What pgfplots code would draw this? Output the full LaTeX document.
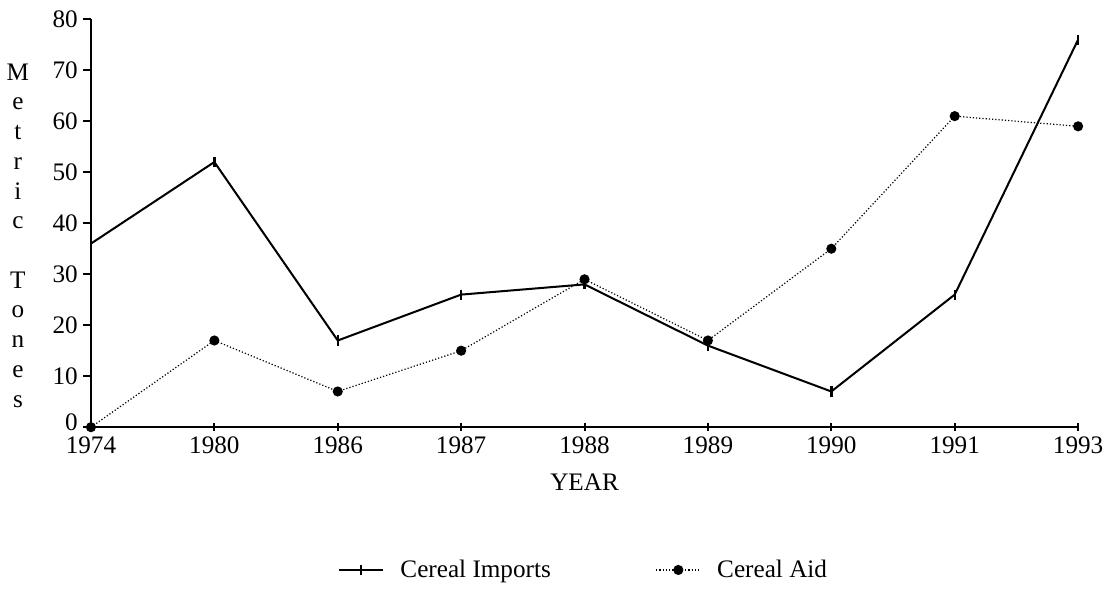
\documentclass[border={0pt 0pt 0pt 2pt}]{standalone}
\usepackage{fontspec}
\setmainfont{Liberation Serif}
\usepackage{pgfplots}
\pgfplotsset{compat=1.18}

\begin{document}
\begin{tikzpicture}
\begin{axis}[
  scale only axis,
  width=490pt, height=202.5pt,
  xmin=0, xmax=8,
  ymin=0, ymax=80,
  ytick={10,20,...,80},
  extra y ticks={0},
  extra y tick style={yticklabel style={yshift=2.5pt, inner ysep=0.5pt}},
  xtick={0,...,8},
  xticklabels={1974,1980,1986,1987,1988,1989,1990,1991,1993},
  axis lines*=left,
  axis line style={line width=1pt},
  tick style={line width=1pt, black},
  ytick align=outside,
  xtick align=center,
  major tick length=4pt,
  tick label style={font=\fontsize{12.5}{14}\selectfont},
  yticklabel style={xshift=1pt},
  xticklabel style={yshift=-1pt, inner ysep=1.5pt},
  /pgf/number format/assume math mode=true,
  xlabel={YEAR},
  xlabel style={font=\fontsize{12.5}{14}\selectfont, yshift=-5pt},
  clip=false,
  legend columns=2,
  legend style={draw=none, at={(0.5,-0.35)}, anchor=center,
    font=\fontsize{12.5}{14}\selectfont,
    /tikz/every odd column/.append style={column sep=6pt},
    /tikz/every even column/.append style={column sep=50pt}},
  legend cell align=left,
  legend image code/.code={\draw[mark repeat=2, mark phase=2, #1]
    plot coordinates {(0pt,0pt) (11pt,0pt) (22pt,0pt)};},
]
\addplot[black, line width=1pt, mark=|, mark size=2.5pt, mark options={line width=1.2pt}]
  coordinates {(0,36) (1,52) (2,17) (3,26) (4,28) (5,16) (6,7) (7,26) (8,76)};
\addlegendentry{Cereal Imports}
\addplot[black, line width=0.6pt, densely dotted, mark=*, mark size=2.2pt, mark options={solid}]
  coordinates {(0,0) (1,17) (2,7) (3,15) (4,29) (5,17) (6,35) (7,61) (8,59)};
\addlegendentry{Cereal Aid}
\node[align=center, font=\fontsize{12.5}{14.75}\selectfont] at (axis description cs:-0.074,0.47)
  {M\\e\\t\\r\\i\\c\\[14.75pt]T\\o\\n\\e\\s};
\end{axis}
\end{tikzpicture}
\end{document}
